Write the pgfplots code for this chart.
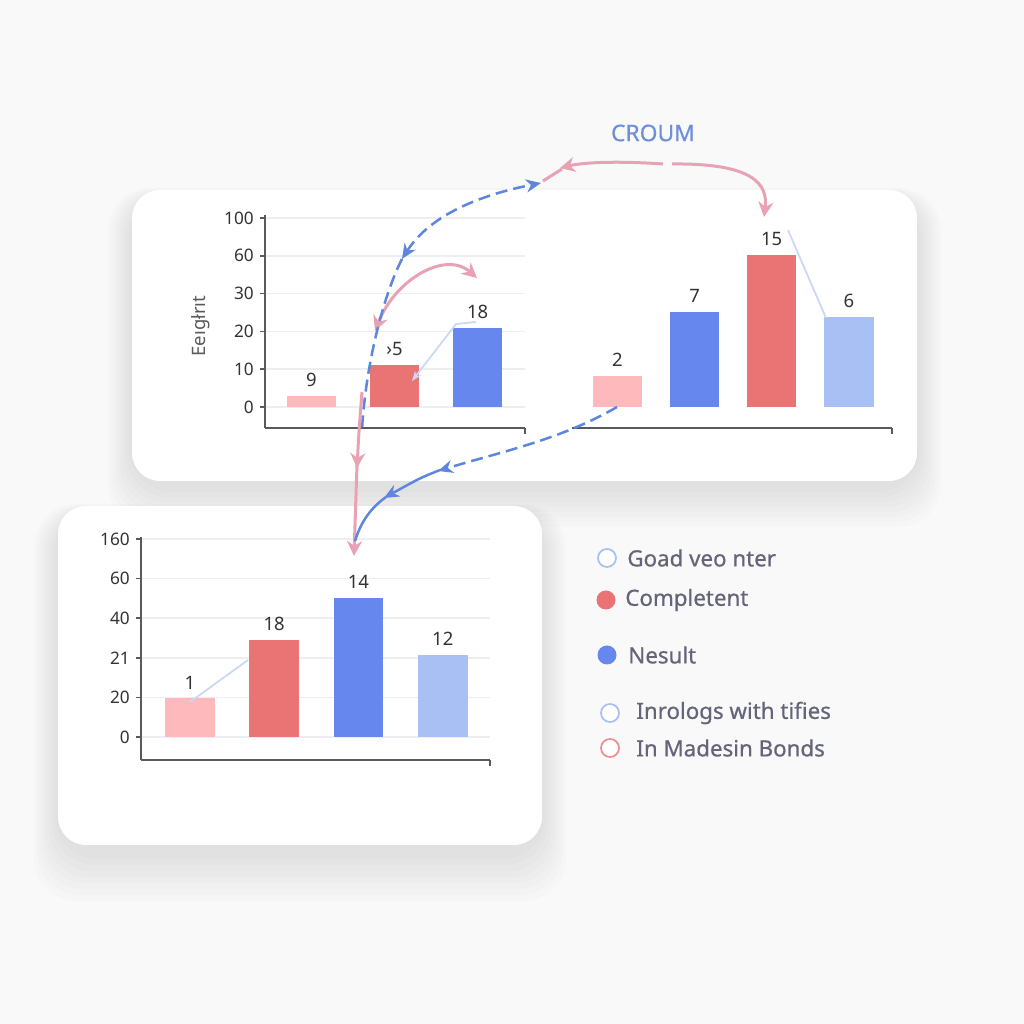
\documentclass[border=0pt]{standalone}
\usepackage{fontspec}
\setmainfont{Noto Sans}
\newfontfamily\legfont{Noto Sans}[FakeBold=0.6]
\usepackage{pgfplots}
\pgfplotsset{compat=1.18}
\usetikzlibrary{arrows.meta}

\definecolor{bgc}{HTML}{F9F9FA}
\definecolor{lpink}{HTML}{FDB9BB}
\definecolor{cred}{HTML}{EA7373}
\definecolor{cblue}{HTML}{6688EE}
\definecolor{lblue}{HTML}{A9C0F5}
\definecolor{gridc}{HTML}{EEEEF2}
\definecolor{axc}{HTML}{5A5A5E}
\definecolor{txt}{HTML}{333333}
\definecolor{legt}{HTML}{65657A}
\definecolor{arrp}{HTML}{E9A2B4}
\definecolor{arrb}{HTML}{5D86DE}
\definecolor{thinb}{HTML}{C9D8F4}
\definecolor{titc}{HTML}{6F8FDB}

\pgfplotsset{
  barax/.style={
    scale only axis, ybar, bar shift=0pt,
    axis x line*=bottom,
    axis line style={axc, line width=0.35mm},
    xtick=\empty,
    ytick={0,...,5},
    ymajorgrids, grid style={gridc, line width=0.3mm},
    tick style={axc, line width=0.3mm},
    major tick length=1mm, tick align=outside,
    tick label style={font=\fontsize{9.8}{12}\selectfont, text=txt},
    /pgf/number format/assume math mode=true,
    nodes near coords, point meta=explicit symbolic,
    nodes near coords style={font=\fontsize{10.5}{12}\selectfont, text=txt, anchor=south, yshift=0.6mm},
    every axis plot/.append style={draw=none},
  }
}

\begin{document}
\begin{tikzpicture}
% background and panels
\begin{scope}[x=0.2mm,y=-0.2mm,yshift=204.8mm]
  \fill[bgc] (0,0) rectangle (1024,1024);
  \foreach \i in {1,...,8} {
    \fill[black, opacity=0.010, rounded corners=24] ({132-3*\i},{190-\i+6}) rectangle ({917+3*\i},{481+5*\i+6});
    \fill[black, opacity=0.012, rounded corners=24] ({58-3*\i},{506-\i+6}) rectangle ({542+3*\i},{845+6*\i+8});
  }
  \fill[white, rounded corners=16] (132,190) rectangle (917,481);
  \fill[white, rounded corners=16] (58,506) rectangle (542,845);
\end{scope}

% top left chart
\begin{axis}[barax, at={(53mm,119.2mm)}, width=52mm, height=42.6mm,
  axis y line*=left,
  xmin=-0.56, xmax=2.57, ymin=-0.556, ymax=5.08,
  yticklabels={0,10,20,30,60,100}, bar width=0.59]
  \addplot[fill=lpink] coordinates {(0,0.29) [9]};
  \addplot[fill=cred] coordinates {(1,1.11) [›5]};
  \addplot[fill=cblue] coordinates {(2,2.09) [18]};
\end{axis}

% top right chart
\begin{axis}[barax, at={(114.4mm,119.2mm)}, width=64mm, height=42.6mm,
  axis y line=none, yticklabels={}, ytick style={draw=none},
  xmin=-0.59, xmax=3.56, ymin=-0.556, ymax=5.08, bar width=0.64]
  \addplot[fill=lpink] coordinates {(0,0.82) [2]};
  \addplot[fill=cblue] coordinates {(1,2.51) [7]};
  \addplot[fill=cred] coordinates {(2,4.02) [15]};
  \addplot[fill=lblue] coordinates {(3,2.38) [6]};
\end{axis}

% bottom chart
\begin{axis}[barax, at={(28.2mm,52.8mm)}, width=69.8mm, height=44.6mm,
  axis y line*=left,
  xmin=-0.58, xmax=3.56, ymin=-0.58, ymax=5.05,
  yticklabels={0,20,21,40,60,160}, bar width=0.59]
  \addplot[fill=lpink] coordinates {(0,0.98) [1]};
  \addplot[fill=cred] coordinates {(1,2.45) [18]};
  \addplot[fill=cblue] coordinates {(2,3.51) [14]};
  \addplot[fill=lblue] coordinates {(3,2.07) [12]};
\end{axis}

% annotations
\begin{scope}[x=0.2mm,y=-0.2mm,yshift=204.8mm]
  \draw[axc, line width=0.3mm] (525,428) -- (525,434);
  \draw[axc, line width=0.3mm] (892,428) -- (892,434);
  \draw[axc, line width=0.3mm] (490,760) -- (490,766);
  \node[rotate=90, text=axc, font=\fontsize{10.5}{12}\selectfont] at (201,326) {Eeıgłrıt};
  \node[text=titc, font=\legfont\fontsize{13}{15}\selectfont] at (653,133) {CROUM};

  % thin light lines
  \draw[thinb, line width=0.35mm, -{Stealth[length=2mm]}] (476,322) -- (456,324) -- (412,381);
  \draw[thinb, line width=0.35mm] (788,230) -- (826,318);
  \draw[thinb, line width=0.35mm] (190,702) -- (248,660);

  % pink arrows
  \draw[arrp, line width=0.6mm, -{Stealth[length=3mm,width=3mm]}] (663,164) .. controls (620,161) and (585,162) .. (560,168);
  \draw[arrp, line width=0.6mm] (562,169) -- (543,181);
  \draw[arrp, line width=0.6mm, -{Stealth[length=3mm,width=3mm]}] (672,164) .. controls (755,163) and (768,185) .. (764,217);
  \draw[arrp, line width=0.6mm, {Stealth[length=3mm,width=3mm]}-{Stealth[length=3mm,width=3mm]}] (375,331) .. controls (395,280) and (445,250) .. (477,278);
  \draw[arrp, line width=0.6mm, -{Stealth[length=3mm,width=3mm]}] (362,392) .. controls (359,430) .. (357,468);
  \draw[arrp, line width=0.6mm, -{Stealth[length=3mm,width=3mm]}] (357,465) -- (354,556);

  % blue arrows
  \draw[arrb, line width=0.5mm, dash pattern=on 2.4mm off 1.2mm, {Stealth[length=3mm,width=2.6mm]}-{Stealth[length=3mm,width=2.6mm]}] (402,259) .. controls (430,215) and (480,195) .. (541,183);
  \draw[arrb, line width=0.5mm, dash pattern=on 2.4mm off 1.2mm] (402,259) .. controls (385,292) and (366,360) .. (362,430);
  \draw[arrb, line width=0.5mm, dash pattern=on 2.4mm off 1.2mm, -{Stealth[length=3mm,width=2.6mm]}] (617,407) .. controls (560,440) and (500,452) .. (438,471);
  \draw[arrb, line width=0.5mm, -{Stealth[length=3mm,width=2.6mm]}] (440,470) .. controls (420,478) .. (384,498);
  \draw[arrb, line width=0.5mm] (386,497) .. controls (368,510) and (360,525) .. (355,541);

  % legend
  \begin{scope}[font=\legfont\fontsize{12.7}{15}\selectfont, text=legt]
    \draw[lblue, line width=0.35mm, fill=white] (607,558) circle (9);
    \node[anchor=west, inner sep=0] at (627,558) {Goad veo nter};
    \fill[cred] (606,600) circle (9.5);
    \node[anchor=west, inner sep=0] at (625,600) {Completent};
    \fill[cblue] (607,655) circle (9.5);
    \node[anchor=west, inner sep=0] at (628,655) {Nesult};
    \draw[lblue, line width=0.35mm, fill=white] (610,713) circle (9);
    \node[anchor=west, inner sep=0] at (636,713) {Inrologs with tifies};
    \draw[cred!80, line width=0.35mm, fill=white] (610,748) circle (9);
    \node[anchor=west, inner sep=0] at (636,748) {In Madesin Bonds};
  \end{scope}
\end{scope}
\end{tikzpicture}
\end{document}
